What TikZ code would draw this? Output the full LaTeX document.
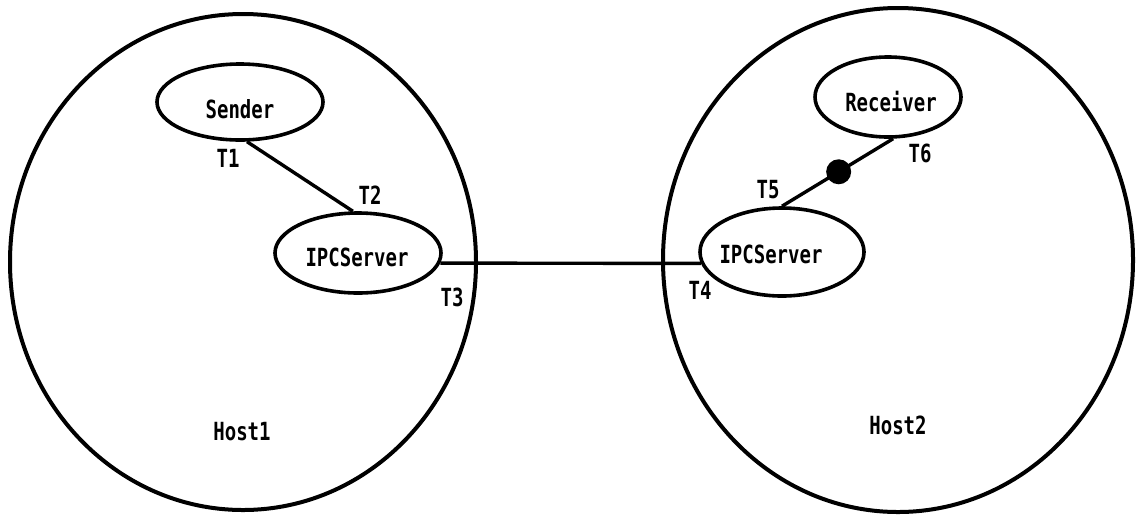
\documentclass[tikz,border=0pt]{standalone}
\usepackage{fontspec}
\newfontfamily\dfont{DejaVu Sans Mono}[FakeStretch=0.76]
\usetikzlibrary{shapes.geometric}
\begin{document}
\begin{tikzpicture}[x=1pt,y=-1pt,
  txt/.style={inner sep=0pt, font=\dfont\bfseries\fontsize{25}{25}\selectfont},
  host/.style={draw, ellipse, line width=4pt, inner sep=0pt},
  proc/.style={draw, ellipse, line width=3.6pt, inner sep=0pt},
  conn/.style={line width=3.4pt},
  blob/.style={circle, fill, inner sep=0pt, minimum size=25pt}]
\useasboundingbox (0,0) rectangle (1142,515);
\fill[white] (0,0) rectangle (1142,515);
% hosts
\node[host, minimum width=466pt, minimum height=496pt] (host1) at (243,262) {};
\node[host, minimum width=470pt, minimum height=504pt] (host2) at (898,260) {};
% processes
\node[proc, minimum width=166pt, minimum height=76pt] (sender) at (240,102) {};
\node[proc, minimum width=166pt, minimum height=80pt] (ipc1) at (358,253) {};
\node[proc, minimum width=164pt, minimum height=88pt] (ipc2) at (782,252) {};
\node[proc, minimum width=146pt, minimum height=80pt] (receiver) at (888,97) {};
% texts
\node[txt] (sendertxt) at (240,109) {Sender};
\node[txt] (ipc1txt) at (357,257) {IPCServer};
\node[txt] (ipc2txt) at (771,254) {IPCServer};
\node[txt] (receivertxt) at (891,102) {Receiver};
\node[txt] (host1txt) at (242,432) {Host1};
\node[txt] (host2txt) at (898,425) {Host2};
\node[txt] (t1) at (228,158) {T1};
\node[txt] (t2) at (370,195) {T2};
\node[txt] (t3) at (452,297) {T3};
\node[txt] (t4) at (700,290) {T4};
\node[txt] (t5) at (768,190) {T5};
\node[txt] (t6) at (920,153) {T6};
% connectors
\draw[conn] (sender.-80) -- (ipc1.97);
\draw[conn] (ipc1.-7) -- (ipc2.188);
\draw[conn] (receiver.-83) -- node[blob, pos=0.49] (dot) {} (ipc2.90);
\end{tikzpicture}
\end{document}
